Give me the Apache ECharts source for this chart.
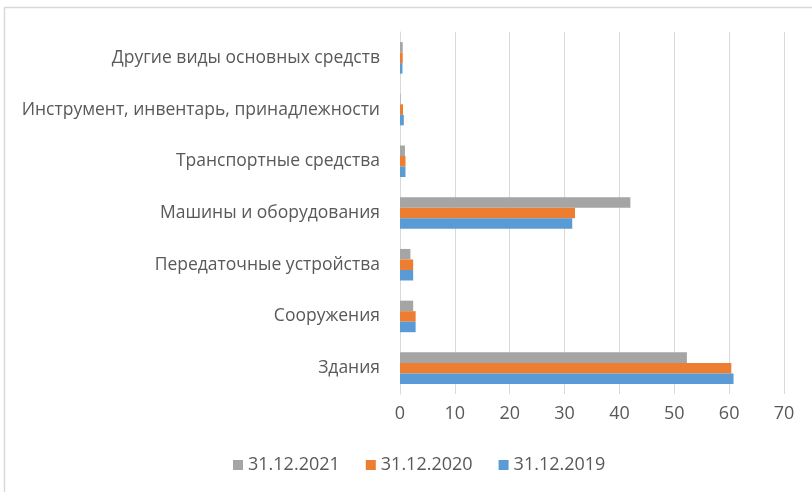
<!DOCTYPE html>
<html>
<head>
<meta charset="utf-8">
<script src="https://cdn.jsdelivr.net/npm/echarts@6/dist/echarts.min.js"></script>
<style>
  html, body { margin: 0; padding: 0; background: #fff; }
  #container { width: 812px; height: 492px; }
</style>
</head>
<body>
<div id="container"></div>
<script>
    // категории снизу вверх
    var categories = ['Здания', 'Сооружения', 'Передаточные устройства', 'Машины и оборудования',
        'Транспортные средства', 'Инструмент, инвентарь, принадлежности', 'Другие виды основных средств'];
    var data2019 = [60.8, 2.85, 2.4, 31.4, 1.0, 0.7, 0.45];
    var data2020 = [60.4, 2.85, 2.4, 31.9, 1.0, 0.55, 0.5];
    var data2021 = [52.3, 2.4, 1.9, 42.0, 0.9, 0.1, 0.5];
    var xTicks = [0, 10, 20, 30, 40, 50, 60, 70];

    var font = '"Open Sans", sans-serif';
    var txt = '#595959';

    var option = {
        animation: false,
        textStyle: { fontFamily: font },
        graphic: [{
            type: 'rect',
            shape: { x: 4.5, y: 7.5, width: 900, height: 600 },
            style: { fill: 'none', stroke: '#d9d9d9', lineWidth: 1.5 }
        }],
        grid: { left: 400, right: 28, top: 32, bottom: 98, containLabel: false },
        legend: {
            bottom: 13,
            left: 228,
            data: ['31.12.2021', '31.12.2020', '31.12.2019'],
            icon: 'rect',
            itemWidth: 10,
            itemHeight: 10,
            itemGap: 26,
            textStyle: { color: txt, fontSize: 18, fontFamily: font }
        },
        xAxis: {
            type: 'value',
            min: xTicks[0],
            max: xTicks[xTicks.length - 1],
            interval: 10,
            axisLine: { show: false },
            axisTick: { show: false },
            axisLabel: { color: txt, fontSize: 18, margin: 11 },
            splitLine: { lineStyle: { color: '#d9d9d9' } }
        },
        yAxis: {
            type: 'category',
            data: categories,
            axisLine: { show: true, lineStyle: { color: '#d9d9d9' } },
            axisTick: { show: false },
            axisLabel: { color: txt, fontSize: 17.5, margin: 20 }
        },
        series: [
            { name: '31.12.2021', type: 'bar', data: data2021, itemStyle: { color: '#a5a5a5' },
              barGap: 0, barCategoryGap: '39%' },
            { name: '31.12.2020', type: 'bar', data: data2020, itemStyle: { color: '#ed7d31' },
              barGap: 0, barCategoryGap: '39%' },
            { name: '31.12.2019', type: 'bar', data: data2019, itemStyle: { color: '#5b9bd5' },
              barGap: 0, barCategoryGap: '39%' }
        ]
    };
    var myChart = echarts.init(document.getElementById('container'));
    myChart.setOption(option);
</script>
</body>
</html>
